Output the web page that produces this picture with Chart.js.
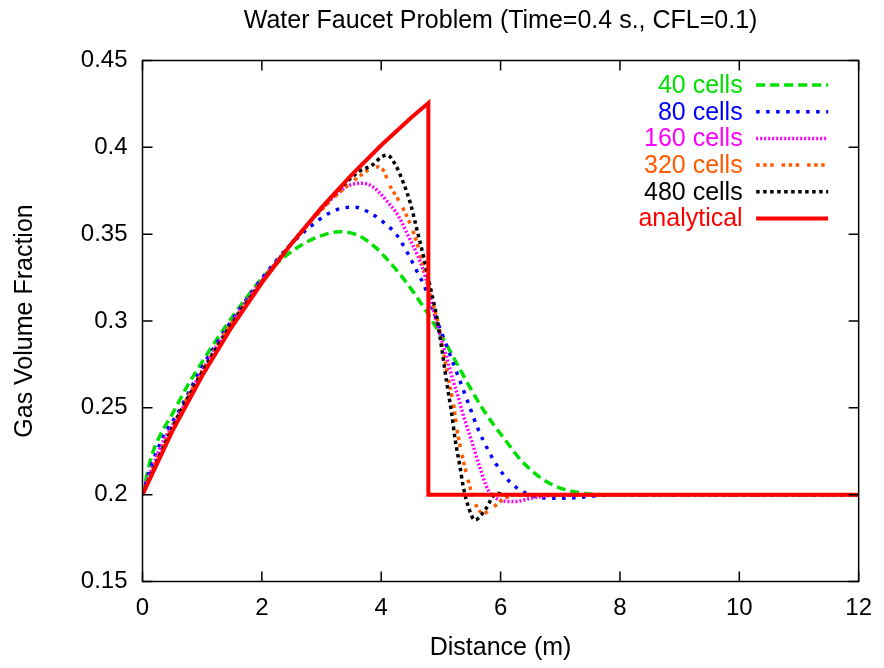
<!DOCTYPE html>
<html>
<head>
<meta charset="utf-8">
<script src="https://cdn.jsdelivr.net/npm/chart.js@4.4.1/dist/chart.umd.min.js"></script>
<style>
html,body{margin:0;padding:0;background:#fff;}
#wrap{width:884px;height:668px;}
</style>
</head>
<body>
<div id="wrap"><canvas id="c" width="884" height="668"></canvas></div>
<script>
// ---- data ----
const chartTitle = "Water Faucet Problem (Time=0.4 s., CFL=0.1)";
const xAxisTitle = "Distance (m)";
const yAxisTitle = "Gas Volume Fraction";
const xTickLabels = ["0", "2", "4", "6", "8", "10", "12"];
const yTickLabels = ["0.15", "0.2", "0.25", "0.3", "0.35", "0.4", "0.45"];
const seriesNames = ["40 cells", "80 cells", "160 cells", "320 cells", "480 cells", "analytical"];

const cells40 = [[0,0.2],[0.15,0.222],[0.3,0.2345],[0.5,0.2465],[0.75,0.2625],[1.0,0.2765],[1.35,0.2948],[1.8,0.316],[2.0,0.3245],[2.4,0.3375],[2.7,0.3445],[3.0,0.3492],[3.3,0.3514],[3.6,0.3495],[3.9,0.3425],[4.1,0.3355],[4.3,0.3275],[4.5,0.3185],[4.7,0.3085],[4.9,0.2975],[5.1,0.286],[5.3,0.2735],[5.5,0.261],[5.7,0.2495],[5.9,0.2395],[6.1,0.2305],[6.3,0.2215],[6.5,0.2145],[6.7,0.209],[6.9,0.2052],[7.1,0.2027],[7.3,0.2012],[7.5,0.2004],[7.8,0.2],[12,0.2]];
const cells80 = [[0,0.2],[0.1,0.212],[0.35,0.2334],[0.6,0.2475],[1.0,0.2735],[1.5,0.3005],[2.0,0.3245],[2.4,0.341],[2.8,0.354],[3.125,0.362],[3.35,0.365],[3.57,0.3655],[3.8,0.3625],[3.96,0.359],[4.1,0.355],[4.24,0.3505],[4.46,0.338],[4.6,0.3285],[4.74,0.3188],[4.85,0.308],[5.07,0.288],[5.24,0.2727],[5.46,0.2526],[5.62,0.238],[5.82,0.2238],[5.99,0.2142],[6.18,0.2065],[6.43,0.2008],[6.65,0.1985],[6.85,0.1979],[7.1,0.198],[7.35,0.1985],[7.7,0.1997],[8,0.2],[12,0.2]];
const cells160 = [[0,0.2],[0.1,0.21],[0.35,0.231],[0.6,0.2455],[1.0,0.2715],[1.5,0.2995],[2.0,0.3235],[2.4,0.3405],[2.8,0.357],[3.1,0.368],[3.3,0.3745],[3.46,0.378],[3.68,0.3793],[3.85,0.3775],[4.01,0.3725],[4.12,0.368],[4.24,0.363],[4.35,0.3565],[4.46,0.3485],[4.62,0.337],[4.74,0.3255],[4.83,0.313],[4.93,0.2986],[5.03,0.287],[5.125,0.2756],[5.21,0.265],[5.29,0.2564],[5.35,0.2487],[5.4,0.243],[5.51,0.2315],[5.65,0.216],[5.79,0.2027],[5.9,0.1985],[5.99,0.1969],[6.24,0.196],[6.51,0.1979],[6.79,0.1994],[7.1,0.2],[12,0.2]];
const cells320 = [[0,0.2],[0.1,0.2085],[0.5,0.239],[1.0,0.271],[1.5,0.299],[2.0,0.323],[2.4,0.3405],[2.8,0.3565],[3.1,0.3675],[3.35,0.3755],[3.6,0.3825],[3.79,0.387],[3.96,0.3888],[4.05,0.386],[4.125,0.3793],[4.29,0.3696],[4.46,0.358],[4.62,0.3427],[4.74,0.3274],[4.85,0.312],[4.96,0.2977],[5.07,0.2766],[5.18,0.2574],[5.21,0.2526],[5.26,0.24],[5.29,0.2334],[5.4,0.2161],[5.51,0.2017],[5.6,0.1931],[5.71,0.1893],[5.85,0.1921],[6.07,0.1979],[6.3,0.2],[12,0.2]];
const cells480 = [[0,0.2],[0.1,0.208],[0.5,0.2385],[1.0,0.2705],[1.5,0.2985],[2.0,0.3225],[2.4,0.3405],[2.8,0.357],[3.2,0.3725],[3.625,0.386],[3.85,0.3898],[4.01,0.3946],[4.1,0.3955],[4.24,0.3898],[4.375,0.3793],[4.49,0.3677],[4.6,0.3524],[4.71,0.337],[4.82,0.3197],[4.93,0.3024],[5.01,0.2852],[5.1,0.2641],[5.18,0.2468],[5.24,0.2315],[5.32,0.2161],[5.375,0.2046],[5.46,0.1931],[5.57,0.1854],[5.74,0.1912],[5.93,0.2008],[6.1,0.2],[12,0.2]];
const analytical = [[0,0.2],[0.5,0.2366],[1,0.2685],[1.5,0.2968],[2,0.322],[2.5,0.3447],[3,0.3653],[3.5,0.384],[4,0.4012],[4.5,0.417],[4.79,0.4255],[4.79,0.2],[12,0.2]];

// ---- styles ----
const seriesColors = ["#00e000", "#0000ff", "#ff00ff", "#ff5a00", "#000000", "#ff0000"];
const seriesDash = [[9,5], [3.5,6.5], [2,2], [3.5,3.5,3.5,3.5,3.5,8], [3.5,3.5], []];
const seriesWidth = [3.5, 3.5, 3.5, 3.5, 3.5, 4];
const seriesData = [cells40, cells80, cells160, cells320, cells480, analytical];

const FONT = "'Liberation Sans', Arial, Helvetica, sans-serif";

const datasets = seriesData.map((d, i) => ({
  label: seriesNames[i],
  data: d.map(p => ({x: p[0], y: p[1]})),
  borderColor: seriesColors[i],
  backgroundColor: seriesColors[i],
  borderDash: seriesDash[i],
  borderWidth: seriesWidth[i],
  pointRadius: 0,
  fill: false,
  tension: 0,
  cubicInterpolationMode: i === 5 ? 'default' : 'monotone'
})).reverse();

const framePlugin = {
  id: 'frame',
  afterDraw(chart) {
    const ctx = chart.ctx;
    const a = chart.chartArea;
    const xs = chart.scales.x, ys = chart.scales.y;
    ctx.save();
    // title centred over the plot area
    ctx.fillStyle = '#000';
    ctx.font = "25px " + FONT;
    ctx.textAlign = 'center';
    ctx.textBaseline = 'middle';
    ctx.fillText(chartTitle, (a.left + a.right) / 2, 21);

    ctx.strokeStyle = '#000';
    ctx.lineWidth = 1.5;
    ctx.beginPath();
    const L = 10;
    xs.ticks.forEach(t => {
      const px = xs.getPixelForValue(t.value);
      ctx.moveTo(px, a.bottom); ctx.lineTo(px, a.bottom - L);
      ctx.moveTo(px, a.top); ctx.lineTo(px, a.top + L);
    });
    ys.ticks.forEach(t => {
      const py = ys.getPixelForValue(t.value);
      ctx.moveTo(a.left, py); ctx.lineTo(a.left + L, py);
      ctx.moveTo(a.right, py); ctx.lineTo(a.right - L, py);
    });
    ctx.stroke();
    ctx.strokeRect(a.left, a.top, a.right - a.left, a.bottom - a.top);

    // legend (top right, text right-aligned, sample on the right)
    ctx.font = "25px " + FONT;
    ctx.textAlign = 'right';
    ctx.textBaseline = 'middle';
    const textRight = a.right - 116;
    const s0 = a.right - 102.5, s1 = a.right - 30.5;
    for (let i = 0; i < seriesNames.length; i++) {
      const y = a.top + 24.5 + i * 26.7;
      ctx.fillStyle = seriesColors[i];
      ctx.fillText(seriesNames[i], textRight, y + 1);
      ctx.beginPath();
      ctx.strokeStyle = seriesColors[i];
      ctx.lineWidth = seriesWidth[i];
      ctx.setLineDash(seriesDash[i]);
      ctx.moveTo(s0, y); ctx.lineTo(s1, y);
      ctx.stroke();
      ctx.setLineDash([]);
    }
    ctx.restore();
  }
};

new Chart(document.getElementById('c'), {
  type: 'line',
  data: { datasets },
  plugins: [framePlugin],
  options: {
    responsive: false,
    animation: false,
    layout: { padding: { left: 0, right: 21.5, top: 60.5, bottom: 0 } },
    plugins: {
      legend: { display: false },
      tooltip: { enabled: false },
      title: { display: false }
    },
    scales: {
      x: {
        type: 'linear',
        min: 0, max: 12,
        afterFit(s) { s.height = 86.5; },
        ticks: {
          stepSize: 2,
          color: '#000',
          padding: 12,
          font: { family: FONT, size: 24 },
          maxRotation: 0,
          callback: (v, i) => xTickLabels[i]
        },
        grid: { display: true, drawOnChartArea: false, drawTicks: false, color: 'rgba(0,0,0,0)' },
        border: { display: false },
        title: {
          display: true, text: xAxisTitle, color: '#000',
          font: { family: FONT, size: 25 },
          padding: { top: 0, bottom: 5 }
        }
      },
      y: {
        type: 'linear',
        min: 0.15, max: 0.45,
        afterFit(s) { s.width = 142.5; },
        ticks: {
          stepSize: 0.05,
          color: '#000',
          padding: 15,
          font: { family: FONT, size: 24 },
          callback: (v, i) => yTickLabels[i]
        },
        grid: { display: true, drawOnChartArea: false, drawTicks: false, color: 'rgba(0,0,0,0)' },
        border: { display: false },
        title: {
          display: true, text: yAxisTitle, color: '#000',
          font: { family: FONT, size: 25 },
          padding: { top: 10, bottom: 0 }
        }
      }
    }
  }
});
</script>
</body>
</html>
